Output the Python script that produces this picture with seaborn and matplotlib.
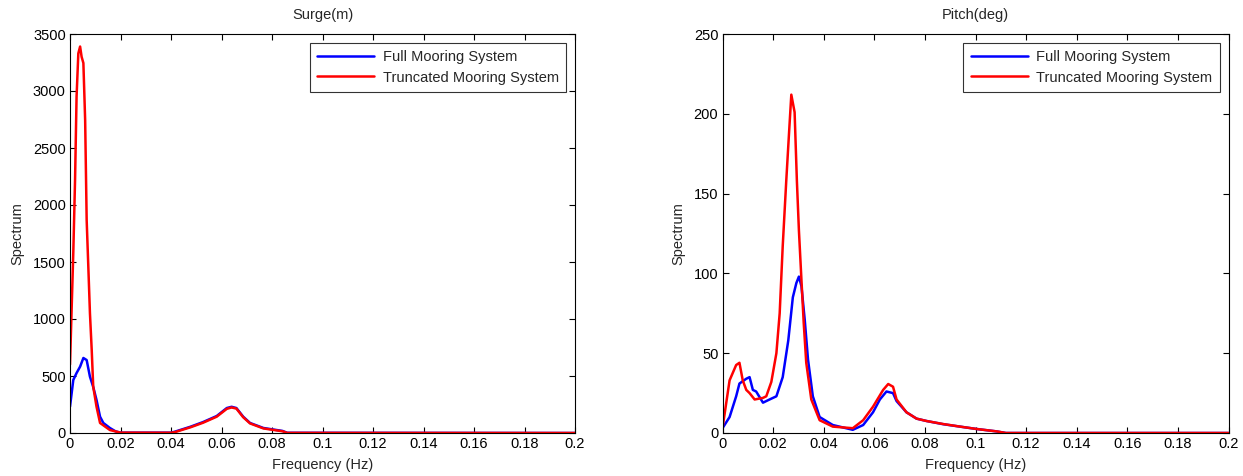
import numpy as np
import pandas as pd
import matplotlib
matplotlib.use("Agg")
import matplotlib.pyplot as plt
import seaborn as sns

# ---------------- data ----------------
surge_full_f = [0, 0.0013, 0.0026, 0.004, 0.0053, 0.0066, 0.0079, 0.0092, 0.0105, 0.0119, 0.0132,
                0.0158, 0.018, 0.02, 0.04, 0.0416, 0.0477, 0.0527, 0.0581, 0.0621, 0.064, 0.0659,
                0.0686, 0.0713, 0.0766, 0.0842, 0.086, 0.2]
surge_full_v = [231, 465, 526, 582, 658, 640, 494, 404, 290, 143, 88,
                44, 15, 3, 3, 12, 55, 96, 149, 219, 230, 219,
                143, 88, 44, 18, 2, 0]

surge_trunc_f = [0, 0.0013, 0.002, 0.0026, 0.0033, 0.004, 0.0046, 0.0053, 0.006, 0.0066, 0.0073,
                 0.0079, 0.0086, 0.0092, 0.0105, 0.0119, 0.0158, 0.02, 0.04, 0.0416, 0.0477, 0.0527,
                 0.0581, 0.0621, 0.064, 0.0659, 0.0686, 0.0713, 0.0766, 0.0842, 0.086, 0.2]
surge_trunc_v = [600, 1578, 2218, 2950, 3330, 3390, 3300, 3245, 2745, 1868, 1430,
                 1050, 728, 406, 231, 88, 26, 3, 2, 8, 50, 90,
                 143, 212, 224, 214, 138, 84, 40, 15, 1, 0]

pitch_full_f = [0, 0.0028, 0.0054, 0.0067, 0.0094, 0.0107, 0.012, 0.0133, 0.016, 0.0186, 0.0213,
                0.0238, 0.026, 0.0278, 0.0292, 0.0302, 0.0312, 0.0325, 0.0338, 0.0357, 0.0384,
                0.0436, 0.0515, 0.0556, 0.0595, 0.0622, 0.0648, 0.0674, 0.0688, 0.0727, 0.0767,
                0.0807, 0.0873, 0.0939, 0.1005, 0.1084, 0.112, 0.2]
pitch_full_v = [3, 10, 23, 31, 34, 35, 27, 26, 19, 21, 23,
                35, 58, 85, 94, 98, 92, 71, 46, 23, 10,
                5, 2, 5, 13, 21, 26, 25, 20, 13, 9,
                7.5, 5.5, 4, 2.5, 1, 0, 0]

pitch_trunc_f = [0, 0.0028, 0.0054, 0.0067, 0.008, 0.0094, 0.0107, 0.0127, 0.016, 0.0173, 0.0193,
                 0.0213, 0.0226, 0.0238, 0.0252, 0.0263, 0.0272, 0.0285, 0.0294, 0.0302, 0.0312,
                 0.0321, 0.0331, 0.0351, 0.0384, 0.0436, 0.0515, 0.0556, 0.0595, 0.0635, 0.0655,
                 0.0674, 0.0688, 0.0727, 0.0767, 0.0807, 0.0873, 0.0939, 0.1005, 0.1084, 0.112, 0.2]
pitch_trunc_v = [3, 33, 42.6, 44, 33, 27, 25, 21, 22, 23, 32,
                 50, 75, 117, 158, 188, 212, 201, 158, 127, 96,
                 69, 44, 21, 8, 4, 3, 8, 16.5, 27, 30.7,
                 29, 21, 13, 9, 7.5, 5.6, 4, 2.5, 1, 0, 0]

series_names = ["Full Mooring System", "Truncated Mooring System"]
panel_titles = ["Surge(m)", "Pitch(deg)"]
surge_yticks = [0, 500, 1000, 1500, 2000, 2500, 3000, 3500]
pitch_yticks = [0, 50, 100, 150, 200, 250]
xticks = [0, 0.02, 0.04, 0.06, 0.08, 0.1, 0.12, 0.14, 0.16, 0.18, 0.2]
xtick_labels = ["0", "0.02", "0.04", "0.06", "0.08", "0.1", "0.12", "0.14", "0.16", "0.18", "0.2"]

# ---------------- style ----------------
sns.set_style("ticks")
plt.rcParams["font.family"] = ["Liberation Sans", "DejaVu Sans"]
FS = 10.5
plt.rcParams["font.size"] = FS

def make_df(f1, v1, f2, v2):
    return pd.concat([
        pd.DataFrame({"f": f1, "v": v1, "s": series_names[0]}),
        pd.DataFrame({"f": f2, "v": v2, "s": series_names[1]}),
    ], ignore_index=True)

fig = plt.figure(figsize=(12.43, 4.76), dpi=100)
W, H = 1243, 476
ax1 = fig.add_axes([70 / W, 1 - 433 / H, 505 / W, 399 / H])
ax2 = fig.add_axes([722.5 / W, 1 - 433 / H, 506 / W, 399 / H])

panels = [
    (ax1, make_df(surge_full_f, surge_full_v, surge_trunc_f, surge_trunc_v), surge_yticks, panel_titles[0]),
    (ax2, make_df(pitch_full_f, pitch_full_v, pitch_trunc_f, pitch_trunc_v), pitch_yticks, panel_titles[1]),
]

for ax, df, yt, title in panels:
    sns.lineplot(data=df, x="f", y="v", hue="s", palette=["#0000ff", "#ff0000"],
                 linewidth=1.8, ax=ax, sort=False, estimator=None)
    ax.set_xlim(0, 0.2)
    ax.set_ylim(yt[0], yt[-1])
    ax.set_xticks(xticks)
    ax.set_xticklabels(xtick_labels)
    ax.set_yticks(yt)
    ax.set_yticklabels([str(t) for t in yt])
    ax.set_xlabel("Frequency (Hz)", fontsize=FS, labelpad=5)
    ax.set_ylabel("Spectrum", fontsize=FS, labelpad=6)
    ax.set_title(title, fontsize=FS, pad=11)
    ax.tick_params(direction="in", length=4, width=0.8, top=True, right=True,
                   labelsize=FS, pad=3, colors="black")
    for sp in ax.spines.values():
        sp.set_visible(True)
        sp.set_linewidth(0.8)
        sp.set_color("black")
    leg = ax.legend(loc="upper right", frameon=True, fancybox=False, fontsize=FS,
                    handlelength=3.9, borderaxespad=0.6, borderpad=0.5,
                    labelspacing=0.45, handletextpad=0.6)
    leg.get_frame().set_edgecolor("black")
    leg.get_frame().set_linewidth(0.8)
    for line in leg.get_lines():
        line.set_linewidth(1.8)

fig.savefig("out.png", dpi=100)
